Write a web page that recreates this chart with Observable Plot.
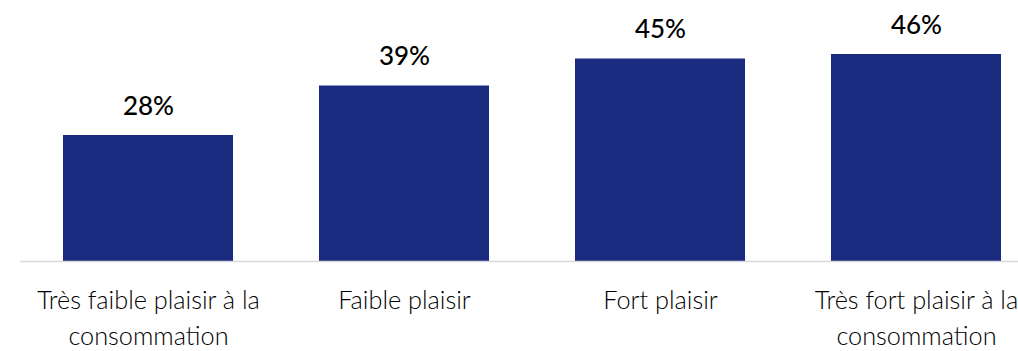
<!DOCTYPE html>
<html>
<head>
<meta charset="utf-8">
<script src="https://cdn.jsdelivr.net/npm/d3@7"></script>
<script src="https://cdn.jsdelivr.net/npm/@observablehq/plot@0.6"></script>
<style>
  html, body { margin: 0; padding: 0; background: #fff; }
  #chart { width: 1018px; height: 351px; }
</style>
</head>
<body>
<div id="chart"></div>
<script>
const categories = [
  "Très faible plaisir à la\nconsommation",
  "Faible plaisir",
  "Fort plaisir",
  "Très fort plaisir à la\nconsommation"
];
const values = [28, 39, 45, 46];
const valueLabels = ["28%", "39%", "45%", "46%"];

const data = categories.map((c, i) => ({cat: c, value: values[i], label: valueLabels[i]}));

const chart = Plot.plot({
  width: 1018,
  height: 351,
  marginTop: 0,
  marginLeft: 62,
  marginRight: 16,
  marginBottom: 90,
  style: {fontFamily: "Lato, sans-serif", background: "#fff"},
  x: {domain: categories, paddingInner: 0.337, paddingOuter: 0, label: null},
  y: {domain: [0, 58], axis: null},
  marks: [
    Plot.barY(data, {x: "cat", y: "value", fill: "#1a2b80"}),
    Plot.ruleY([0], {stroke: "#d9d9d9", strokeWidth: 1.5, insetLeft: -42, insetRight: -16}),
    Plot.text(data, {x: "cat", y: "value", text: "label", dy: -21, lineAnchor: "bottom",
      fontSize: 26, fontWeight: 500, fill: "#000"}),
    Plot.axisX({tickSize: 0, tickPadding: 21, fontSize: 25.3, fontWeight: 300,
      lineHeight: 1.45, fill: "#000", label: null})
  ]
});
document.getElementById("chart").appendChild(chart);
</script>
</body>
</html>
